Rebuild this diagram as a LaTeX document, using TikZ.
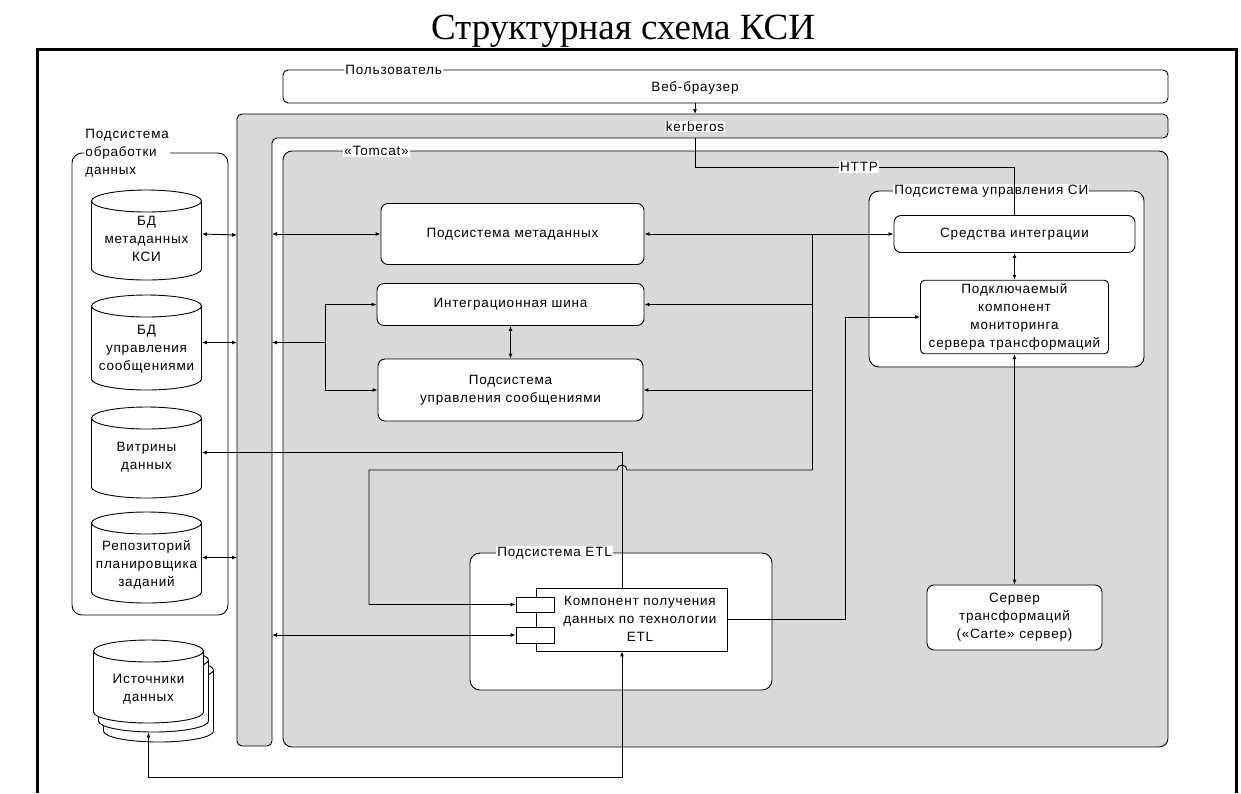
\documentclass[tikz,border=0pt]{standalone}
\usepackage{fontspec}
\setmainfont{Liberation Sans}[LetterSpace=6]
\newfontfamily\zagfont{Liberation Serif}
\usetikzlibrary{arrows.meta}
\definecolor{fon}{RGB}{217,217,217}
\newcommand{\bdcyl}[3]{%
  \draw [fill=white] ({#1-55},{#2-#3/2+11}) -- ({#1-55},{#2+#3/2-11})
    arc [start angle=180,end angle=360,x radius=55pt,y radius=11pt]
    -- ({#1+55},{#2-#3/2+11})
    arc [start angle=0,end angle=360,x radius=55pt,y radius=11pt];}
\newcommand{\nizh}[2][6pt]{\raisebox{-#1}[\height][\depth]{\begin{tabular}{@{}c@{}}#2\end{tabular}}}

\begin{document}
\begin{tikzpicture}[x=1pt,y=-1pt,line width=0.9pt,font=\fontsize{13.5}{18}\selectfont,
  blok/.style={draw,fill=white,rounded corners=7pt,align=center},
  grp/.style={draw,fill=white,rounded corners=10pt},
  bd/.style={minimum width=110pt,inner sep=0pt},
  nadp/.style={anchor=west,fill=white,inner sep=1pt},
  arr/.style={-{Latex[length=5pt,width=4pt]}},
  darr/.style={{Latex[length=5pt,width=4pt]}-{Latex[length=5pt,width=4pt]}}]

\useasboundingbox (0,0) rectangle (1241,793);
\node [font=\zagfont\fontsize{37}{40}\selectfont,anchor=base] (v0) at (623,39) {Структурная схема КСИ};
\draw [line width=3pt] (37,793) -- (37,49.5) -- (1236,49.5) -- (1236,793);

\node [draw,rounded corners=5pt,minimum width=885pt,minimum height=33pt] (v1) at (725.5,86.5) {};
\node [nadp] (v2) at (344,70) {Пользователь};
\node (v3) at (695,88) {Веб-браузер};

\draw [fill=fon,rounded corners=5pt] (237,114) -- (1168,114) -- (1168,138) -- (272,138) -- (272,746) -- (237,746) -- cycle;
\coordinate (k1) at (237,114);
\coordinate (k2) at (272,138);
\node [fill=white,inner sep=1pt] (v4) at (695,126.5) {kerberos};
\draw [fill=fon,rounded corners=9pt] (283,151) rectangle (1168,747);
\node [nadp] (v5) at (343,151) {«Tomcat»};

\draw [grp] (72,153) rectangle (228,615);
\node [nadp,align=left] (v6) at (84,153) {Подсистема\\обработки\\данных};
\bdcyl{146.5}{235}{90}
\node [bd,minimum height=90pt] (v7) at (146.5,235) {\nizh[5pt]{БД\\метаданных\\КСИ}};
\bdcyl{146.5}{342.5}{95}
\node [bd,minimum height=95pt] (v8) at (146.5,342.5) {\nizh{БД\\управления\\сообщениями}};
\bdcyl{146.5}{452.5}{91}
\node [bd,minimum height=91pt] (v9) at (146.5,452.5) {\nizh[4pt]{Витрины\\данных}};
\bdcyl{146.5}{557.5}{91}
\node [bd,minimum height=91pt] (v10) at (146.5,557.5) {\nizh[7pt]{Репозиторий\\планировщика\\заданий}};

\bdcyl{158.5}{700.5}{83}
\bdcyl{153.5}{690.5}{83}
\node [bd,minimum height=83pt] (v24) at (153.5,690.5) {};
\bdcyl{148.5}{681.5}{83}
\node [bd,minimum height=83pt] (v25) at (148.5,681.5) {\nizh[7pt]{Источники\\данных}};

\node [blok,minimum width=263pt,minimum height=61pt] (v11) at (512.5,234) {Подсистема метаданных};
\node [blok,minimum width=267pt,minimum height=42pt] (v12) at (510.5,304.5) {Интеграционная шина};
\node [blok,minimum width=265pt,minimum height=62pt] (v13) at (510.5,390) {Подсистема\\управления сообщениями};

\draw [grp] (869,191) rectangle (1144,367);
\node [nadp] (v18) at (893,191) {Подсистема управления СИ};
\node [blok,minimum width=241pt,minimum height=37pt] (v14) at (1014.5,234) {Средства интеграции};
\node [blok,rounded corners=4pt,minimum width=188pt,minimum height=71pt] (v16) at (1014.5,317) {Подключаемый\\компонент\\мониторинга\\сервера трансформаций};
\node [blok,minimum width=175pt,minimum height=65pt] (v17) at (1014.5,617.5) {Сервер\\трансформаций\\(«Carte» сервер)};

\draw [grp] (470,553) rectangle (772,690);
\node [nadp] (v19) at (496,553) {Подсистема ETL};
\node [draw,fill=white,minimum width=191pt,minimum height=63pt] (v20) at (631.5,619.5) {\hspace*{17pt}\nizh[0pt]{Компонент получения\\данных по технологии\\ETL}};
\node [draw,fill=white,minimum width=38pt,minimum height=15pt] (v21) at (535,604.5) {};
\node [draw,fill=white,minimum width=38pt,minimum height=16pt] (v22) at (535,635) {};

\coordinate (v30) at (812,470);
\coordinate (v31) at (369,470);
\coordinate (v32) at (325,342);
\coordinate (v33) at (845,317);
\coordinate (v34) at (622,777);
\coordinate (v35) at (622,470);

\draw [arr] (v4 |- v1.south) -- (v4 |- k1);
\node [fill=white,inner sep=1pt] (v15) at (859,167) {HTTP};
\draw (v4 |- k2) |- (v15.west);
\draw (v15.east) -| (v14.north);

\draw [darr] (v7.east |- v11) -- (v7.east -| k1);
\draw [darr] (v11.west -| k2) -- (v11.west);
\draw [darr] (v8.east) -- (v8.east -| k1);
\draw [arr] (v8.east -| v32) -- (v8.east -| k2);
\draw (v12.west -| v32) -- (v13.west -| v32);
\draw [arr] (v12.west -| v32) -- (v12.west);
\draw [arr] (v13.west -| v32) -- (v13.west);
\draw [darr] (v12.south) -- (v13.north);
\draw [darr] (v10.east) -- (v10.east -| k1);
\draw [darr] (v22.west -| k2) -- (v22.west);
\draw [arr] ([xshift=-9.5pt]v20.north) |- (v9.east);

\draw [darr] (v11.east) -- (v14.west);
\draw (v11.east -| v30) -- (v30);
\draw [arr] (v12.east -| v30) -- (v12.east);
\draw [arr] (v13.east -| v30) -- (v13.east);
\draw [arr] (v30) -- ([xshift=5pt]v35) arc [start angle=0,end angle=180,radius=5pt] -- (v31) |- (v21.west);
\draw [arr] (v20.east) -| (v33) -- (v16.west);
\draw [darr] (v14.south) -- (v16.north);
\draw [darr] (v16.south) -- (v17.north);
\draw [darr] (v25.south |- v24.south) |- (v34) -- ([xshift=-9.5pt]v20.south);
\end{tikzpicture}
\end{document}
